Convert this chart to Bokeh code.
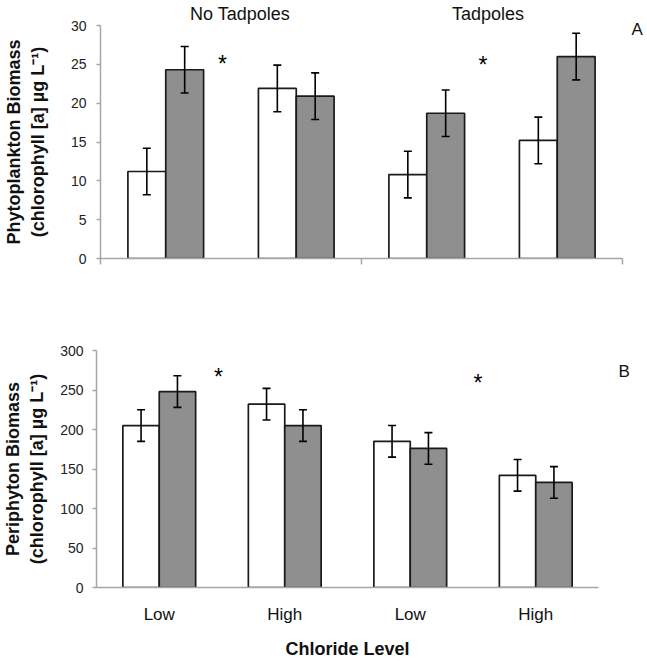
from bokeh.plotting import figure
from bokeh.models import ColumnDataSource, Whisker, FixedTicker, TeeHead, LinearAxis
from bokeh.embed import file_html
from bokeh.resources import INLINE
from bokeh.core.properties import value

# ---------------- data ----------------
tadpole_groups = ["No Tadpoles", "Tadpoles"]
tadpole_label_x = [1.07, 2.97]
chloride_levels = ["Low", "High", "Low", "High"]

phyto_open = [11.2, 21.9, 10.8, 15.2]
phyto_open_err = [3.0, 3.0, 3.0, 3.0]
phyto_grey = [24.3, 20.9, 18.7, 26.0]
phyto_grey_err = [3.0, 3.0, 3.0, 3.0]
phyto_ticks = [0, 5, 10, 15, 20, 25, 30]

peri_open = [205, 232, 185, 142]
peri_open_err = [20, 20, 20, 20]
peri_grey = [248, 205, 176, 133]
peri_grey_err = [20, 20, 20, 20]
peri_ticks = [0, 50, 100, 150, 200, 250, 300]

# significance markers (x in group units, y in data units)
phyto_star_x = [0.935, 2.93]
phyto_star_y = [25.1, 24.9]
peri_star_x = [0.972, 3.04]
peri_star_y = [266.5, 259]

# panel letters (placed on a right-hand axis at this data height)
panel_a_y = 29.5
panel_b_y = 273.0

FONT = "Liberation Sans"
GREY = "#8f8f8f"
AXIS = "#a6a6a6"
EDGE = "#1a1a1a"
BAR_W = 0.29
OFF = 0.145


def add_bars(p, open_vals, open_err, grey_vals, grey_err):
    n = len(open_vals)
    centers = [i + 0.5 for i in range(n)]
    for vals, errs, off, fill in ((open_vals, open_err, -OFF, "white"),
                                  (grey_vals, grey_err, OFF, GREY)):
        src = ColumnDataSource(dict(
            x=[c + off for c in centers],
            top=vals,
            upper=[v + e for v, e in zip(vals, errs)],
            lower=[v - e for v, e in zip(vals, errs)],
        ))
        p.vbar(x="x", top="top", bottom=0, width=BAR_W, source=src,
               fill_color=fill, line_color=EDGE, line_width=1.7)
        w = Whisker(source=src, base="x", upper="upper", lower="lower",
                    line_color="black", line_width=1.6, level="overlay",
                    upper_head=TeeHead(size=8, line_color="black", line_width=1.6),
                    lower_head=TeeHead(size=8, line_color="black", line_width=1.6))
        p.add_layout(w)


def style(p):
    p.grid.visible = False
    p.outline_line_color = None
    p.background_fill_color = "white"
    p.border_fill_color = "white"
    for ax in (p.xaxis[0], p.yaxis[0]):
        ax.axis_line_color = AXIS
        ax.axis_line_width = 1.5
        ax.major_tick_line_color = AXIS
        ax.major_tick_line_width = 1.5
        ax.minor_tick_line_color = None
        ax.major_tick_in = 0
        ax.major_label_text_font = FONT
        ax.major_label_text_color = "#222222"
        ax.axis_label_text_font = FONT
        ax.axis_label_text_font_style = "bold"
        ax.axis_label_text_color = "#111111"


def text_axis(loc_ticks, overrides, standoff, size="17px"):
    ax = LinearAxis(ticker=FixedTicker(ticks=loc_ticks),
                    major_label_overrides=overrides,
                    axis_line_color=None, major_tick_line_color=None,
                    minor_tick_line_color=None, major_tick_out=0, major_tick_in=0,
                    major_label_standoff=standoff,
                    major_label_text_font=FONT, major_label_text_font_size=size,
                    major_label_text_color="#111111")
    return ax


# ---------------- panel A ----------------
p1 = figure(width=647, height=310, x_range=(0, 4), y_range=(0, 30),
            output_backend="svg", toolbar_location=None,
            min_border_left=100, min_border_right=25,
            min_border_top=24, min_border_bottom=52)
style(p1)
add_bars(p1, phyto_open, phyto_open_err, phyto_grey, phyto_grey_err)

p1.yaxis.ticker = FixedTicker(ticks=phyto_ticks)
p1.yaxis.major_tick_out = 4
p1.yaxis.major_label_standoff = 10
p1.yaxis.major_label_text_font_size = "14px"
p1.yaxis.axis_label = "Phytoplankton Biomass\n(chlorophyll [a] µg L⁻¹)"
p1.yaxis.axis_label_text_font_size = "18px"
p1.yaxis.axis_label_standoff = 20

# separators between the tadpole groups (minor ticks only, no labels)
p1.xaxis.ticker = FixedTicker(ticks=[], minor_ticks=[0, 2, 4])
p1.xaxis.minor_tick_line_color = AXIS
p1.xaxis.minor_tick_line_width = 1.5
p1.xaxis.minor_tick_out = 6
p1.xaxis.minor_tick_in = 0

p1.add_layout(text_axis(tadpole_label_x,
                        {x: n for x, n in zip(tadpole_label_x, tadpole_groups)}, 2,
                        "18px"),
              "above")
p1.add_layout(text_axis([panel_a_y], {panel_a_y: "A"}, 9), "right")

p1.text(x=phyto_star_x, y=phyto_star_y, text=["*", "*"],
        text_font=value(FONT), text_font_size="23px",
        text_align="center", text_baseline="middle", text_color="black")

# ---------------- panel B ----------------
p2 = figure(width=647, height=351, x_range=(0, 4), y_range=(0, 300),
            output_backend="svg", toolbar_location=None,
            min_border_left=96, min_border_right=49,
            min_border_top=40, min_border_bottom=74)
style(p2)
add_bars(p2, peri_open, peri_open_err, peri_grey, peri_grey_err)

p2.yaxis.ticker = FixedTicker(ticks=peri_ticks)
p2.yaxis.major_tick_out = 4
p2.yaxis.major_label_standoff = 9
p2.yaxis.major_label_text_font_size = "14px"
p2.yaxis.axis_label = "Periphyton Biomass\n(chlorophyll [a] µg L⁻¹)"
p2.yaxis.axis_label_text_font_size = "18px"
p2.yaxis.axis_label_standoff = 10

p2.xaxis.ticker = FixedTicker(ticks=[0.5, 1.5, 2.5, 3.5])
p2.xaxis.major_label_overrides = {i + 0.5: lab for i, lab in enumerate(chloride_levels)}
p2.xaxis.major_tick_out = 0
p2.xaxis.major_tick_line_color = None
p2.xaxis.major_label_standoff = 17
p2.xaxis.major_label_text_font_size = "17px"
p2.xaxis.major_label_text_color = "#111111"
p2.xaxis.axis_label = "Chloride Level"
p2.xaxis.axis_label_text_font_size = "18px"
p2.xaxis.axis_label_standoff = 12

p2.add_layout(text_axis([panel_b_y], {panel_b_y: "B"}, 20), "right")

p2.text(x=peri_star_x, y=peri_star_y, text=["*", "*"],
        text_font=value(FONT), text_font_size="23px",
        text_align="center", text_baseline="middle", text_color="black")

# two independent roots, stacked, so their frames keep their own borders
open("out.html", "w").write(file_html([p1, p2], INLINE))
